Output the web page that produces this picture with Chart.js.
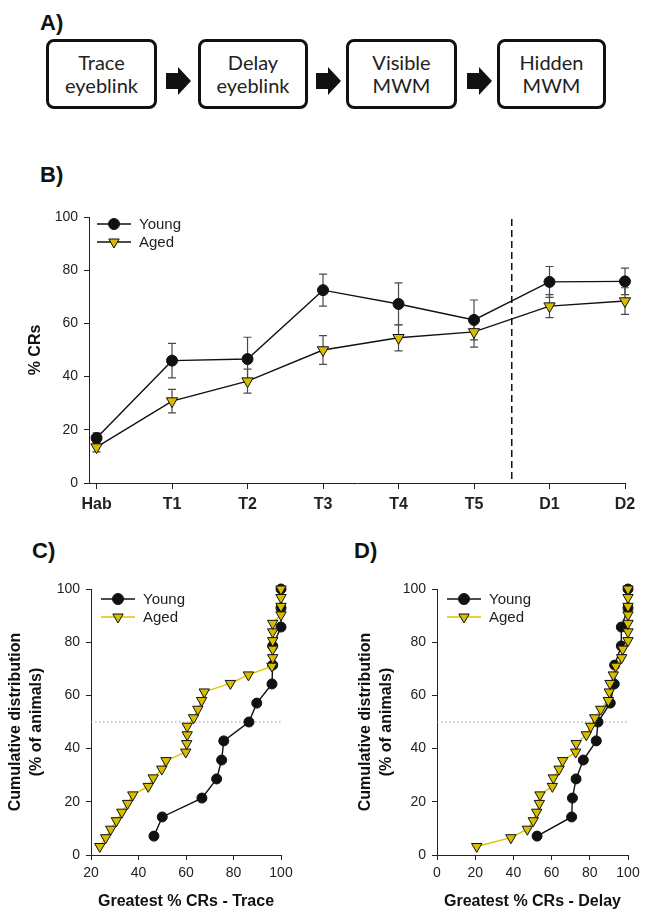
<!DOCTYPE html>
<html>
<head>
<meta charset="utf-8">
<script src="https://cdn.jsdelivr.net/npm/chart.js@4.4.1/dist/chart.umd.min.js"></script>
<style>
  body { margin: 0; background: #fff; width: 649px; height: 920px; position: relative; overflow: hidden; font-family: "Liberation Sans", Arial, sans-serif; }
  .lbl { position: absolute; font-weight: bold; font-size: 22px; color: #111; }
  .box { position: absolute; top: 39px; height: 70px; box-sizing: border-box; border: 3px solid #111; border-radius: 8px;
         display: flex; align-items: center; justify-content: center; text-align: center;
         font-family: Lato, "Open Sans", sans-serif; font-size: 20px; line-height: 23px; color: #222; }
  .arrow { position: absolute; top: 67px; }
  canvas { position: absolute; }
</style>
</head>
<body>
<div class="lbl" style="left:40px;top:10px;">A)</div>
<div class="box" style="left:46px;width:111px;">Trace<br>eyeblink</div>
<svg class="arrow" style="left:166px" width="25" height="28"><path d="M0 6 H12 V0 L25 14 L12 28 V22 H0 Z" fill="#111"/></svg>
<div class="box" style="left:198px;width:110px;">Delay<br>eyeblink</div>
<svg class="arrow" style="left:316px" width="25" height="28"><path d="M0 6 H12 V0 L25 14 L12 28 V22 H0 Z" fill="#111"/></svg>
<div class="box" style="left:346px;width:111px;">Visible<br>MWM</div>
<svg class="arrow" style="left:467px" width="25" height="28"><path d="M0 6 H12 V0 L25 14 L12 28 V22 H0 Z" fill="#111"/></svg>
<div class="box" style="left:497px;width:109px;">Hidden<br>MWM</div>

<div class="lbl" style="left:40px;top:162px;">B)</div>
<div class="lbl" style="left:32px;top:538px;">C)</div>
<div class="lbl" style="left:354px;top:538px;">D)</div>

<canvas id="chartB" width="649" height="340" style="left:0;top:190px"></canvas>
<canvas id="chartC" width="322" height="355" style="left:0;top:565px"></canvas>
<canvas id="chartD" width="327" height="355" style="left:322px;top:565px"></canvas>

<script>
// panel B: acquisition sessions
const stages = ["Hab", "T1", "T2", "T3", "T4", "T5", "D1", "D2"];
const youngMean = [16.9, 46.0, 46.6, 72.5, 67.3, 61.3, 75.6, 75.8];
const youngSem = [2.0, 6.5, 8.2, 6.0, 7.9, 7.5, 5.8, 5.0];
const agedMean = [13.5, 30.8, 38.3, 50.0, 54.6, 56.8, 66.5, 68.4];
const agedSem = [1.8, 4.4, 4.5, 5.4, 4.9, 5.7, 4.3, 5.0];

// panel C: greatest % CRs, trace
const traceYoungX = [46.5, 50.0, 66.7, 72.9, 75.0, 75.9, 86.5, 89.8, 96.2, 96.5, 96.5, 100, 100, 100];
const youngCum = [7.1, 14.3, 21.4, 28.6, 35.7, 42.9, 50.0, 57.1, 64.3, 71.4, 78.6, 85.7, 92.9, 100];
const traceAgedX = [23.7, 26.2, 28.3, 30.7, 33.0, 35.4, 37.6, 44.1, 46.2, 49.8, 51.6, 59.9, 60.3, 60.5, 60.5, 63.2,
  65.0, 66.6, 67.7, 78.7, 86.3, 96.2, 96.5, 96.5, 96.5, 96.5, 96.5, 100, 100, 100, 100];
const agedCum = [3.2, 6.5, 9.7, 12.9, 16.1, 19.4, 22.6, 25.8, 29.0, 32.3, 35.5, 38.7, 41.9, 45.2, 48.4, 51.6,
  54.8, 58.1, 61.3, 64.5, 67.7, 71.0, 74.2, 77.4, 80.6, 83.9, 87.1, 90.3, 93.5, 96.8, 100];

// panel D: greatest % CRs, delay
const delayYoungX = [52.4, 70.5, 70.9, 72.8, 76.6, 83.4, 84.3, 90.7, 92.8, 93.0, 96.5, 96.5, 100, 100];
const delayAgedX = [20.8, 38.7, 47.3, 50.4, 52.2, 53.6, 53.9, 60.4, 60.9, 63.9, 65.8, 72.6, 72.9, 78.2, 80.5, 82.6,
  85.7, 89.7, 90.2, 90.6, 92.3, 93.6, 96.7, 97.2, 100, 100, 100, 100, 100, 100, 100];

const yellow = "#d6bd00";
const yellowLine = "#dcc400";
const axisFont = { family: "Liberation Sans, Arial, sans-serif", size: 14 };
const titleFont = { family: "Liberation Sans, Arial, sans-serif", size: 16, weight: "bold", lineHeight: 1.3 };

function pts(xs, ys) {
  return xs.map((x, i) => ({ x: x, y: ys[i] }));
}

function marker(ctx, style, x, y, r, fill) {
  ctx.beginPath();
  if (style === "circle") {
    ctx.arc(x, y, r, 0, Math.PI * 2);
  } else {
    ctx.moveTo(x - r * 0.866, y - r * 0.5);
    ctx.lineTo(x + r * 0.866, y - r * 0.5);
    ctx.lineTo(x, y + r);
    ctx.closePath();
  }
  ctx.fillStyle = fill;
  ctx.fill();
  ctx.lineWidth = 1;
  ctx.strokeStyle = "#111";
  ctx.stroke();
}

// error bars, reference lines and the line+marker legend
const extras = {
  id: "extras",
  beforeDatasetsDraw(chart, args, opts) {
    const ctx = chart.ctx, xs = chart.scales.x, ys = chart.scales.y, a = chart.chartArea;
    ctx.save();
    if (opts.hline !== undefined) {
      ctx.strokeStyle = "#999";
      ctx.lineWidth = 1;
      ctx.setLineDash([1.5, 2.5]);
      ctx.beginPath();
      ctx.moveTo(a.left, ys.getPixelForValue(opts.hline));
      ctx.lineTo(a.right, ys.getPixelForValue(opts.hline));
      ctx.stroke();
    }
    if (opts.vline !== undefined) {
      ctx.strokeStyle = "#111";
      ctx.lineWidth = 1.5;
      ctx.setLineDash([7, 4]);
      ctx.beginPath();
      ctx.moveTo(xs.getPixelForValue(opts.vline), a.top + 2);
      ctx.lineTo(xs.getPixelForValue(opts.vline), a.bottom);
      ctx.stroke();
    }
    ctx.setLineDash([]);
    if (opts.errors) {
      ctx.strokeStyle = "#4a4a4a";
      ctx.lineWidth = 1.2;
      chart.data.datasets.forEach((ds, di) => {
        const err = opts.errors[di];
        ds.data.forEach((p, i) => {
          const x = xs.getPixelForValue(p.x);
          const y1 = ys.getPixelForValue(p.y + err[i]);
          const y2 = ys.getPixelForValue(p.y - err[i]);
          ctx.beginPath();
          ctx.moveTo(x, y1); ctx.lineTo(x, y2);
          ctx.moveTo(x - 4, y1); ctx.lineTo(x + 4, y1);
          ctx.moveTo(x - 4, y2); ctx.lineTo(x + 4, y2);
          ctx.stroke();
        });
      });
    }
    ctx.restore();
  },
  afterDraw(chart, args, opts) {
    if (!opts.legend) return;
    const ctx = chart.ctx, a = chart.chartArea, L = opts.legend;
    ctx.save();
    L.items.forEach((it, i) => {
      const y = a.top + L.top + i * 18;
      ctx.strokeStyle = it.line;
      ctx.lineWidth = 1.5;
      ctx.beginPath();
      ctx.moveTo(a.left + L.left, y);
      ctx.lineTo(a.left + L.left + 34, y);
      ctx.stroke();
      marker(ctx, it.style, a.left + L.left + 17, y, it.style === "circle" ? 5.5 : 6, it.fill);
      ctx.fillStyle = "#222";
      ctx.font = "15px Liberation Sans, Arial, sans-serif";
      ctx.textBaseline = "middle";
      ctx.fillText(it.label, a.left + L.left + 42, y + 1);
    });
    ctx.restore();
  }
};

function fixed(w, h) {
  return function (scale) {
    if (w !== undefined) scale.width = w;
    if (h !== undefined) scale.height = h;
  };
}

function axisBase(min, max, step) {
  return {
    type: "linear", min: min, max: max,
    border: { display: true, color: "#222", width: 1 },
    grid: { drawOnChartArea: false, drawTicks: true, tickLength: 5, color: "#222" },
    ticks: { stepSize: step, color: "#222", font: axisFont, includeBounds: false }
  };
}

function lineSet(label, data, style, lineColor, order, r) {
  return {
    label: label, data: data, showLine: true, order: order, clip: false,
    borderColor: lineColor, borderWidth: 1.4,
    pointStyle: style === "circle" ? "circle" : "triangle",
    rotation: style === "circle" ? 0 : 180,
    pointRadius: r,
    pointBackgroundColor: style === "circle" ? "#111" : yellow,
    pointBorderColor: "#111", pointBorderWidth: 1
  };
}

// ---- panel B ----
const xB = axisBase(-0.1, 7, 1);
xB.grid.tickLength = 6;
xB.ticks.padding = 6;
xB.ticks.font = { family: "Liberation Sans, Arial, sans-serif", size: 16, weight: "bold" };
xB.ticks.callback = v => stages[v];
xB.afterFit = fixed(undefined, 47);
const yB = axisBase(0, 100, 20);
yB.ticks.padding = 6;
yB.title = { display: true, text: "% CRs", color: "#111", font: titleFont, padding: { top: 25, bottom: 0 } };
yB.afterFit = fixed(89);

new Chart(document.getElementById("chartB"), {
  type: "scatter",
  data: {
    datasets: [
      lineSet("Young", pts(stages.map((s, i) => i), youngMean), "circle", "#111", 1, 5.5),
      lineSet("Aged", pts(stages.map((s, i) => i), agedMean), "triangle", "#111", 0, 6.5)
    ]
  },
  options: {
    responsive: false, animation: false,
    layout: { padding: { top: 27, right: 24, left: 0, bottom: 0 } },
    scales: { x: xB, y: yB },
    plugins: {
      legend: { display: false }, tooltip: { enabled: false },
      extras: {
        errors: [youngSem, agedSem], vline: 5.5,
        legend: { left: 8, top: 7, items: [
          { label: "Young", style: "circle", fill: "#111", line: "#111" },
          { label: "Aged", style: "triangle", fill: yellow, line: "#111" }
        ] }
      }
    }
  },
  plugins: [extras]
});

// ---- panels C and D ----
function cumChart(id, youngX, agedX, xMin, xTitle, yWidth, titlePad, rightPad) {
  const x = axisBase(xMin, 100, 20);
  x.ticks.padding = 5;
  x.title = { display: true, text: xTitle, color: "#111", font: titleFont, padding: { top: 0, bottom: 8 } };
  x.afterFit = fixed(undefined, 65);
  const y = axisBase(0, 100, 20);
  y.ticks.padding = 6;
  y.title = { display: true, text: ["Cumulative distribution", "(% of animals)"], color: "#111", font: titleFont,
              padding: { top: titlePad, bottom: 0 } };
  y.afterFit = fixed(yWidth);
  new Chart(document.getElementById(id), {
    type: "scatter",
    data: {
      datasets: [
        lineSet("Young", pts(youngX, youngCum), "circle", "#111", 1, 5),
        lineSet("Aged", pts(agedX, agedCum), "triangle", yellowLine, 0, 6)
      ]
    },
    options: {
      responsive: false, animation: false,
      layout: { padding: { top: 24, right: rightPad, left: 0, bottom: 0 } },
      scales: { x: x, y: y },
      plugins: {
        legend: { display: false }, tooltip: { enabled: false },
        extras: {
          hline: 50,
          legend: { left: 10, top: 10, items: [
            { label: "Young", style: "circle", fill: "#111", line: "#111" },
            { label: "Aged", style: "triangle", fill: yellow, line: yellowLine }
          ] }
        }
      }
    },
    plugins: [extras]
  });
}

cumChart("chartC", traceYoungX, traceAgedX, 20, "Greatest % CRs - Trace", 91, 5, 41);
cumChart("chartD", delayYoungX, delayAgedX, 0, "Greatest % CRs - Delay", 115, 33, 21);
</script>
</body>
</html>
